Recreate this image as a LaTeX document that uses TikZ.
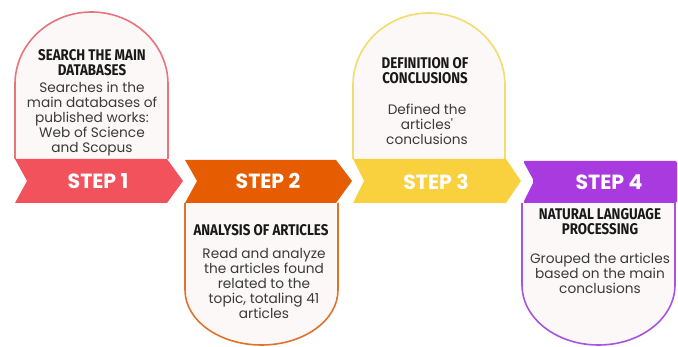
\documentclass[tikz,border=0pt]{standalone}
\usepackage{fontspec}
\setmainfont{Poppins}
\newfontfamily\headfont[FakeStretch=0.86]{Fira Sans}
\usetikzlibrary{positioning}
\definecolor{cardfill}{HTML}{FDF8F8}
\definecolor{bodygray}{HTML}{3A3A3A}
\definecolor{redstep}{HTML}{F2525C}
\definecolor{redline}{HTML}{E9737B}
\definecolor{orangestep}{HTML}{E65C00}
\definecolor{orangeline}{HTML}{E0732A}
\definecolor{yellowstep}{HTML}{F9D13E}
\definecolor{yellowline}{HTML}{F3DC6E}
\definecolor{purplestep}{HTML}{A83AE0}
\definecolor{purpleline}{HTML}{A555DE}

\begin{document}
\begin{tikzpicture}[
    x=1pt, y=-1pt,
    card/.style={line width=1.6pt, fill=cardfill},
    head/.style={font=\headfont\bfseries\fontsize{15.5}{15}\selectfont, align=center, text=black!90, inner sep=0pt},
    body/.style={font=\fontsize{13.7}{15}\selectfont, align=center, text=bodygray, inner sep=0pt},
    steplabel/.style={font=\bfseries\fontsize{20.5}{22}\selectfont, text=white, inner sep=0pt}
]
    \useasboundingbox[fill=white] (0,0) rectangle (678,347);

    % Cards (arches on top, shields below)
    \draw[card, draw=redline] (15,159) -- (15,84)
        arc[start angle=180, end angle=0, x radius=76.5pt, y radius=72pt] -- (168,159);
    \draw[card, draw=orangeline] (185,203) -- (185,290)
        arc[start angle=180, end angle=360, x radius=76.5pt, y radius=55pt] -- (338,203);
    \draw[card, draw=yellowline] (353,159) -- (353,85)
        arc[start angle=180, end angle=0, x radius=76pt, y radius=72pt] -- (505,159);
    \draw[card, draw=purpleline] (522,203) -- (522,285)
        arc[start angle=180, end angle=360, x radius=76.5pt, y radius=60pt] -- (675,203);

    % Step banners
    \fill[redstep] (15,159) -- (167,159) -- (183,181) -- (167,203) -- (15,203) -- (27,181) -- cycle;
    \fill[orangestep] (185,160) -- (336,160) -- (352,181) -- (336,203) -- (185,203) -- (197,181) -- cycle;
    \fill[yellowstep] (353,159) -- (506,159) -- (521,181) -- (506,203) -- (353,203) -- (364,181) -- cycle;
    \fill[purplestep, rounded corners=2pt] (523,161) -- (677,161) -- (677,203) -- (523,203) -- (534,181) -- cycle;

    \node[steplabel] (step1) at (98,181) {STEP 1};
    \node[steplabel] (step2) at (268,181) {STEP 2};
    \node[steplabel] (step3) at (436,182) {STEP 3};
    \node[steplabel] (step4) at (609,182) {STEP 4};

    % Step 1
    \node[head] (search) at (92,62.5) {SEARCH THE MAIN\\DATABASES};
    \node[body] (searchtxt) at (92,119) {Searches in the\\main databases of\\published works:\\Web of Science\\and Scopus};

    % Step 2
    \node[head] (analysis) at (261,230) {ANALYSIS OF ARTICLES};
    \node[body] (analysistxt) at (264,283) {Read and analyze\\the articles found\\related to the\\topic, totaling 41\\articles};

    % Step 3
    \node[head] (definition) at (425,70.5) {DEFINITION OF\\CONCLUSIONS};
    \node[body] (definitiontxt) at (427,124) {Defined the\\articles\textquotesingle\\conclusions};

    % Step 4
    \node[head] (nlp) at (600,221.5) {NATURAL LANGUAGE\\PROCESSING};
    \node[body] (nlptxt) at (600,273) {Grouped the articles\\based on the main\\conclusions};
\end{tikzpicture}
\end{document}
